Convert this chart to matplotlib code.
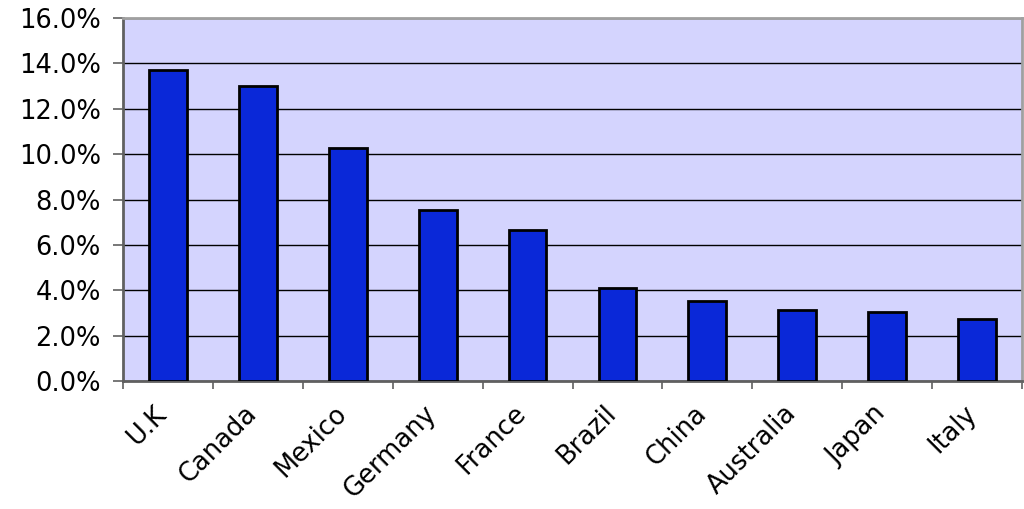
import numpy as np
import matplotlib
matplotlib.use('Agg')
import matplotlib.pyplot as plt
from matplotlib.ticker import FuncFormatter, MultipleLocator, FixedLocator
import matplotlib.transforms as mtransforms

countries = ['U.K', 'Canada', 'Mexico', 'Germany', 'France',
             'Brazil', 'China', 'Australia', 'Japan', 'Italy']
share = [13.7, 13.0, 10.27, 7.55, 6.65, 4.1, 3.53, 3.15, 3.04, 2.73]

fig = plt.figure(figsize=(10.24, 5.09), dpi=100)
ax = fig.add_axes([123 / 1024, 128 / 509, 899 / 1024, 363 / 509])
ax.set_facecolor('#d4d4fe')

x = np.arange(len(countries))
ax.bar(x, share, width=0.42, color='#0a28d8', edgecolor='black', linewidth=2, zorder=3)

ax.set_xlim(-0.5, len(countries) - 0.5)
ax.set_ylim(0, 16)
ax.yaxis.set_major_locator(MultipleLocator(2))
ax.yaxis.set_major_formatter(FuncFormatter(lambda v, p: '%.1f%%' % v))
ax.grid(axis='y', color='black', linewidth=1, zorder=1)

ax.set_xticks(x)
ax.set_xticklabels(countries, rotation=45, ha='right', rotation_mode='anchor')
ax.xaxis.set_minor_locator(FixedLocator(np.arange(-0.5, len(countries), 1)))
ax.tick_params(axis='x', which='major', length=0, pad=14, labelsize=18.5)
ax.tick_params(axis='x', which='minor', length=6, width=1.2, color='#606060')
ax.tick_params(axis='y', length=7, width=1.2, color='#606060', labelsize=18.5, pad=9)
# nudge the rotated country names left so they end under the bar
offset = mtransforms.ScaledTranslation(-14 / 100, 0, fig.dpi_scale_trans)
for lab in ax.get_xticklabels():
    lab.set_transform(lab.get_transform() + offset)

for side in ['left', 'bottom']:
    ax.spines[side].set_color('#606060')
    ax.spines[side].set_linewidth(2)
for side in ['top', 'right']:
    ax.spines[side].set_color('#a0a0a0')
    ax.spines[side].set_linewidth(2)

fig.savefig('out.png', dpi=100)
